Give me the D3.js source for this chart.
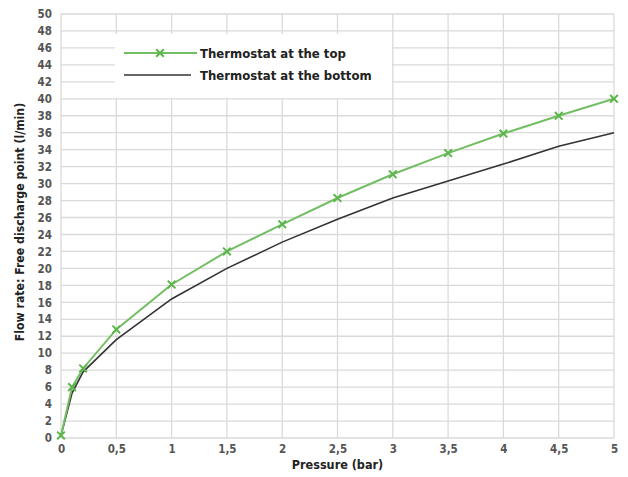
<!DOCTYPE html>
<html><head><meta charset="utf-8">
<script src="https://cdn.jsdelivr.net/npm/d3@7"></script>
<style>
body{margin:0;background:#fff;}
text{font-family:"DejaVu Sans Condensed","DejaVu Sans",sans-serif;font-weight:bold;}
</style></head>
<body><svg id="c" width="628" height="477"></svg>
<script>
const pressure = [0, 0.1, 0.2, 0.5, 1, 1.5, 2, 2.5, 3, 3.5, 4, 4.5, 5];
const flowTop = [0.3, 6, 8.2, 12.8, 18.1, 22, 25.2, 28.3, 31.1, 33.6, 35.9, 38, 40];
const flowBottom = [0.3, 5.3, 7.8, 11.6, 16.4, 20, 23.1, 25.8, 28.3, 30.3, 32.3, 34.4, 36];
const xTicks = [0, 0.5, 1, 1.5, 2, 2.5, 3, 3.5, 4, 4.5, 5];
const yTicks = d3.range(0, 51, 2);
const seriesNames = ["Thermostat at the top", "Thermostat at the bottom"];

const svg = d3.select("#c");
const x = d3.scaleLinear().domain([0, 5]).range([61, 614]);
const y = d3.scaleLinear().domain([0, 50]).range([438, 14]);
const fmt = d => String(d).replace(".", ",");

// grid
const g = svg.append("g");
g.selectAll(".h").data(yTicks).enter().append("line")
  .attr("x1", x(0)).attr("x2", x(5)).attr("y1", d => y(d)).attr("y2", d => y(d))
  .attr("stroke", "#dadada").attr("stroke-width", 1.3);
g.selectAll(".v").data(xTicks).enter().append("line")
  .attr("x1", d => x(d)).attr("x2", d => x(d)).attr("y1", y(0)).attr("y2", y(50))
  .attr("stroke", "#dadada").attr("stroke-width", 1.3);

// axes labels
const yAxis = svg.append("g").attr("transform", `translate(${x(0)},0)`)
  .call(d3.axisLeft(y).tickValues(yTicks).tickSize(0).tickPadding(9));
yAxis.select(".domain").remove();
yAxis.selectAll("text").attr("fill", "#555").attr("font-size", 11.5)
  .style("font-family", "'DejaVu Sans Condensed',sans-serif").style("font-weight", "bold");
const xAxis = svg.append("g").attr("transform", `translate(0,${y(0)})`)
  .call(d3.axisBottom(x).tickValues(xTicks).tickFormat(fmt).tickSize(0).tickPadding(7));
xAxis.select(".domain").remove();
xAxis.selectAll("text").attr("fill", "#555").attr("font-size", 11.5)
  .style("font-family", "'DejaVu Sans Condensed',sans-serif").style("font-weight", "bold");

svg.append("text").attr("x", x(2.5)).attr("y", 469).attr("text-anchor", "middle")
  .attr("font-size", 12.5).attr("fill", "#222").text("Pressure (bar)");
svg.append("text").attr("transform", `translate(24,222) rotate(-90)`)
  .attr("text-anchor", "middle").attr("font-size", 12.2).attr("fill", "#222")
  .text("Flow rate: Free discharge point (l/min)");

// lines
const line = d3.line().x((d, i) => x(pressure[i])).y(d => y(d));
svg.append("path").datum(flowBottom).attr("d", line).attr("fill", "none")
  .attr("stroke", "#333").attr("stroke-width", 1.6);
svg.append("path").datum(flowTop).attr("d", line).attr("fill", "none")
  .attr("stroke", "#72be63").attr("stroke-width", 2);
const cross = d3.symbol().type(d3.symbolX).size(40);
svg.selectAll(".m").data(flowTop).enter().append("path")
  .attr("d", cross).attr("transform", (d, i) => `translate(${x(pressure[i])},${y(d)})`)
  .attr("fill", "none").attr("stroke", "#5cb64a").attr("stroke-width", 2);

// legend
const lg = svg.append("g");
lg.append("rect").attr("x", 115).attr("y", 34).attr("width", 277).attr("height", 64).attr("fill", "#fff");
lg.append("line").attr("x1", 124).attr("x2", 197).attr("y1", 53).attr("y2", 53)
  .attr("stroke", "#72be63").attr("stroke-width", 2);
lg.append("path").attr("d", cross).attr("transform", "translate(160,53)")
  .attr("fill", "none").attr("stroke", "#5cb64a").attr("stroke-width", 2);
lg.append("line").attr("x1", 124).attr("x2", 191).attr("y1", 75).attr("y2", 75)
  .attr("stroke", "#333").attr("stroke-width", 1.6);
lg.append("text").attr("x", 200).attr("y", 58).attr("font-size", 13).attr("fill", "#222").text(seriesNames[0]);
lg.append("text").attr("x", 200).attr("y", 80).attr("font-size", 13).attr("fill", "#222").text(seriesNames[1]);
</script></body></html>
